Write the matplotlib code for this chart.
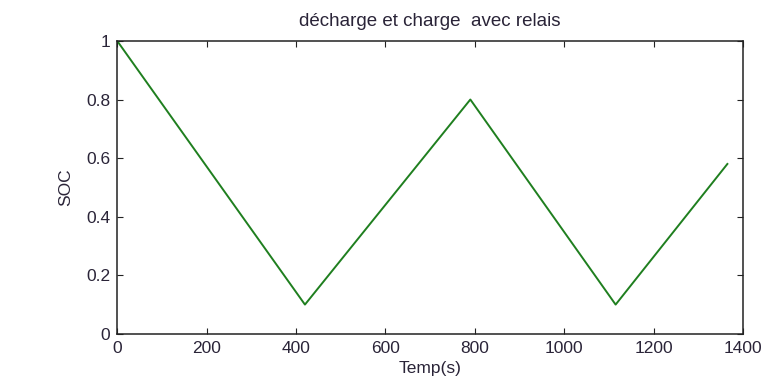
import matplotlib
matplotlib.use('Agg')
import matplotlib.pyplot as plt

# vertices of the SOC curve (time in s, state of charge)
temps = [0, 420, 790, 1115, 1365]
soc = [1.0, 0.1, 0.8, 0.1, 0.58]

xticks = [0, 200, 400, 600, 800, 1000, 1200, 1400]
yticks = [0, 0.2, 0.4, 0.6, 0.8, 1]

plt.rcParams['font.family'] = ['Liberation Sans', 'DejaVu Sans']
txt = "#2a2438"

fig = plt.figure(figsize=(7.66, 3.86), dpi=100)
ax = fig.add_axes([0.153, 0.135, 0.817, 0.759])

ax.plot(temps, soc, color="#1f7f1f", linewidth=1.4)

ax.set_xlim(0, 1400)
ax.set_ylim(0, 1)
ax.set_xticks(xticks)
ax.set_xticklabels([str(t) for t in xticks])
ax.set_yticks(yticks)
ax.set_yticklabels(["0", "0.2", "0.4", "0.6", "0.8", "1"])
ax.tick_params(direction="in", top=True, right=True, length=4,
               labelsize=12.5, color="#222222", labelcolor=txt, pad=5)
for s in ax.spines.values():
    s.set_linewidth(1.1)
    s.set_color("#222222")

ax.set_xlabel("Temp(s)", fontsize=12.5, color=txt, labelpad=4)
ax.set_ylabel("SOC", fontsize=12.5, color=txt, labelpad=9)
ax.set_title("décharge et charge  avec relais", fontsize=13.5, color=txt, pad=11)

fig.savefig("out.png", dpi=100)
